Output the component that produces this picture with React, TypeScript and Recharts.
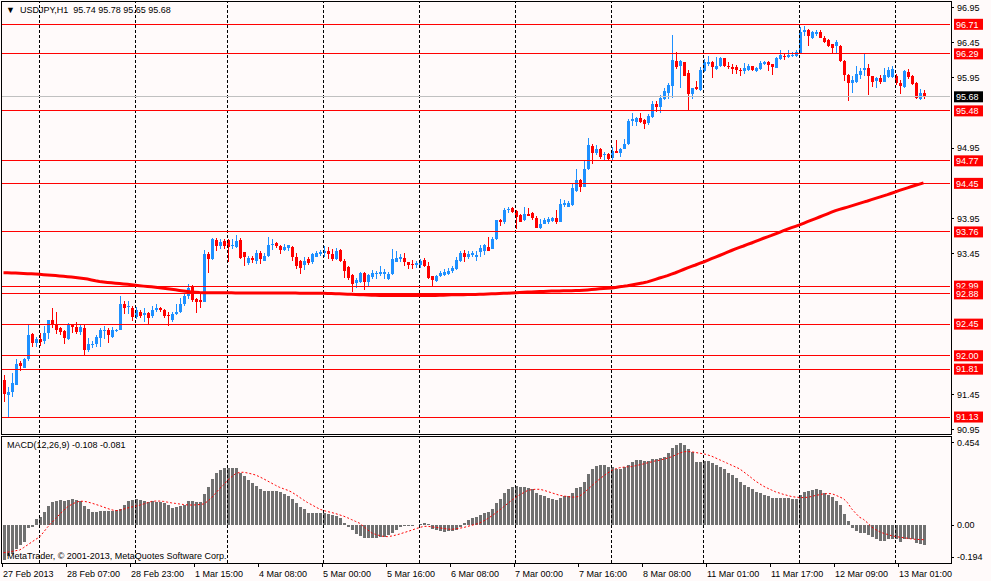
import React from 'react';
import { ComposedChart, Bar, Line, XAxis, YAxis, ReferenceLine } from 'recharts';

// ---------- price data (USDJPY H1, bar 0 = 27 Feb 2013 15:00) ----------
const opens = [
  91.655, 91.45, 91.48, 91.59, 91.895, 91.83, 91.95, 92.306, 92.18, 92.235,
  92.21, 92.325, 92.504, 92.447, 92.39, 92.357, 92.235, 92.433, 92.41, 92.34,
  92.4, 92.08, 92.156, 92.17, 92.25, 92.357, 92.36, 92.26, 92.36, 92.363,
  92.74, 92.7, 92.684, 92.55, 92.627, 92.58, 92.608, 92.56, 92.646, 92.674,
  92.646, 92.58, 92.504, 92.589, 92.627, 92.731, 92.854, 92.976, 92.807, 92.788,
  92.769, 93.448, 93.373, 93.647, 93.553, 93.628, 93.647, 93.553, 93.543, 93.647,
  93.477, 93.316, 93.392, 93.345, 93.467, 93.354, 93.42, 93.571, 93.6, 93.562,
  93.505, 93.533, 93.552, 93.41, 93.345, 93.297, 93.373, 93.326, 93.41, 93.448,
  93.467, 93.496, 93.44, 93.373, 93.505, 93.354, 93.26, 93.146, 93.033, 93.052,
  93.175, 93.052, 93.118, 93.165, 93.156, 93.165, 93.09, 93.156, 93.335, 93.382,
  93.392, 93.335, 93.307, 93.297, 93.297, 93.363, 93.279, 93.137, 93.061, 93.128,
  93.146, 93.156, 93.203, 93.231, 93.354, 93.458, 93.41, 93.43, 93.41, 93.475,
  93.484, 93.55, 93.522, 93.654, 93.925, 93.895, 94.07, 94.093, 94.055, 93.999,
  93.923, 94.018, 94.027, 93.961, 93.81, 93.876, 93.895, 93.914, 93.961, 93.905,
  94.14, 94.121, 94.14, 94.348, 94.499, 94.405, 94.65, 94.981, 94.877, 94.934,
  94.849, 94.868, 94.811, 94.915, 94.887, 94.943, 95.009, 95.33, 95.321, 95.378,
  95.35, 95.302, 95.387, 95.576, 95.529, 95.642, 95.736, 95.84, 96.19, 96.114,
  96.171, 96.02, 95.717, 95.821, 95.774, 96.048, 96.143, 96.18, 96.077, 96.114,
  96.228, 96.124, 96.105, 96.105, 96.067, 96.048, 96.067, 96.114, 96.048, 96.077,
  96.152, 96.18, 96.143, 96.096, 96.218, 96.265, 96.246, 96.256, 96.266, 96.303,
  96.606, 96.624, 96.52, 96.577, 96.605, 96.52, 96.483, 96.426, 96.398, 96.407,
  96.19, 95.992, 95.878, 95.897, 95.992, 96.058, 96.086, 95.973, 95.907, 95.944,
  95.897, 95.963, 95.963, 95.973, 95.878, 95.822, 96.029, 95.982, 95.878, 95.652,
  95.74,
];
const highs = [
  91.73, 91.55, 91.76, 91.95, 91.93, 91.975, 92.457, 92.33, 92.26, 92.33,
  92.43, 92.51, 92.674, 92.617, 92.41, 92.37, 92.46, 92.457, 92.485, 92.457,
  92.45, 92.25, 92.21, 92.297, 92.4, 92.42, 92.39, 92.41, 92.38, 92.854,
  92.78, 92.78, 92.71, 92.693, 92.646, 92.684, 92.627, 92.712, 92.74, 92.7,
  92.665, 92.627, 92.627, 92.731, 92.816, 92.896, 93.024, 93.005, 92.82, 92.89,
  93.51, 93.477, 93.675, 93.675, 93.656, 93.656, 93.656, 93.656, 93.722, 93.675,
  93.48, 93.42, 93.42, 93.505, 93.496, 93.467, 93.694, 93.656, 93.618, 93.58,
  93.59, 93.58, 93.562, 93.467, 93.363, 93.41, 93.41, 93.458, 93.486, 93.505,
  93.562, 93.543, 93.515, 93.533, 93.515, 93.373, 93.278, 93.156, 93.109, 93.184,
  93.184, 93.156, 93.222, 93.203, 93.278, 93.232, 93.184, 93.524, 93.486, 93.448,
  93.458, 93.335, 93.363, 93.345, 93.382, 93.392, 93.335, 93.137, 93.146, 93.203,
  93.24, 93.25, 93.278, 93.41, 93.496, 93.505, 93.486, 93.496, 93.484, 93.578,
  93.588, 93.692, 93.682, 93.93, 93.94, 94.093, 94.12, 94.12, 94.074, 94.008,
  94.12, 94.102, 94.046, 93.98, 93.942, 93.952, 93.97, 93.97, 94.074, 94.225,
  94.216, 94.197, 94.452, 94.66, 94.518, 94.783, 95.094, 95.009, 95.0, 94.952,
  94.896, 94.887, 94.971, 95.066, 94.952, 95.075, 95.359, 95.444, 95.387, 95.444,
  95.359, 95.434, 95.614, 95.623, 95.699, 95.803, 95.869, 96.558, 96.312, 96.209,
  96.18, 96.067, 95.812, 95.906, 96.105, 96.218, 96.265, 96.19, 96.246, 96.246,
  96.237, 96.171, 96.143, 96.133, 96.095, 96.162, 96.152, 96.124, 96.105, 96.19,
  96.19, 96.19, 96.152, 96.246, 96.35, 96.303, 96.35, 96.313, 96.35, 96.672,
  96.69, 96.643, 96.615, 96.624, 96.634, 96.539, 96.502, 96.435, 96.483, 96.417,
  96.209, 96.01, 95.973, 96.124, 96.095, 96.284, 96.143, 95.982, 95.963, 95.992,
  96.086, 96.105, 96.114, 96.01, 95.916, 96.058, 96.077, 95.992, 95.897, 95.784,
  95.78,
];
const lows = [
  91.35, 91.125, 91.42, 91.59, 91.79, 91.82, 91.93, 92.127, 92.13, 92.14,
  92.17, 92.235, 92.4, 92.306, 92.3, 92.165, 92.226, 92.325, 92.306, 92.29,
  92.008, 92.05, 92.117, 92.126, 92.126, 92.235, 92.183, 92.25, 92.34, 92.36,
  92.59, 92.59, 92.49, 92.523, 92.542, 92.485, 92.457, 92.542, 92.617, 92.617,
  92.542, 92.424, 92.485, 92.58, 92.608, 92.703, 92.807, 92.769, 92.608, 92.684,
  92.76, 93.18, 93.364, 93.486, 93.524, 93.524, 93.335, 93.524, 93.533, 93.382,
  93.274, 93.297, 93.316, 93.307, 93.307, 93.345, 93.41, 93.505, 93.533, 93.448,
  93.486, 93.496, 93.345, 93.24, 93.156, 93.222, 93.297, 93.307, 93.401, 93.42,
  93.41, 93.373, 93.354, 93.363, 93.335, 93.109, 93.08, 92.9, 92.967, 93.033,
  92.939, 92.995, 93.09, 93.09, 93.128, 93.09, 93.07, 93.146, 93.326, 93.335,
  93.278, 93.231, 93.231, 93.25, 93.25, 93.26, 93.09, 92.995, 93.052, 93.118,
  93.128, 93.146, 93.175, 93.212, 93.335, 93.326, 93.373, 93.41, 93.342, 93.399,
  93.437, 93.49, 93.512, 93.64, 93.838, 93.876, 94.027, 94.027, 93.801, 93.9,
  93.914, 93.98, 93.933, 93.81, 93.8, 93.867, 93.876, 93.905, 93.876, 93.9,
  94.112, 94.112, 94.131, 94.33, 94.33, 94.395, 94.64, 94.726, 94.858, 94.792,
  94.783, 94.783, 94.764, 94.877, 94.83, 94.934, 95.0, 95.264, 95.264, 95.302,
  95.227, 95.274, 95.378, 95.463, 95.444, 95.632, 95.651, 95.661, 96.076, 95.812,
  95.972, 95.472, 95.651, 95.774, 95.765, 96.038, 96.114, 95.944, 96.058, 96.105,
  96.105, 96.077, 96.01, 96.001, 95.982, 96.01, 96.048, 96.048, 96.029, 96.067,
  96.133, 96.048, 95.992, 96.086, 96.199, 96.199, 96.237, 96.246, 96.246, 96.294,
  96.539, 96.407, 96.502, 96.549, 96.511, 96.445, 96.388, 96.303, 96.294, 96.18,
  95.907, 95.623, 95.737, 95.878, 95.935, 95.973, 95.708, 95.822, 95.803, 95.859,
  95.888, 95.944, 95.944, 95.841, 95.718, 95.803, 95.935, 95.841, 95.642, 95.633,
  95.65,
];
const closes = [
  91.456, 91.49, 91.607, 91.89, 91.853, 91.95, 92.292, 92.183, 92.235, 92.202,
  92.325, 92.504, 92.447, 92.362, 92.34, 92.25, 92.433, 92.41, 92.344, 92.41,
  92.08, 92.164, 92.17, 92.26, 92.363, 92.365, 92.29, 92.37, 92.37, 92.731,
  92.674, 92.71, 92.55, 92.646, 92.56, 92.608, 92.542, 92.646, 92.674, 92.646,
  92.56, 92.56, 92.589, 92.627, 92.74, 92.854, 92.957, 92.788, 92.769, 92.769,
  93.448, 93.373, 93.665, 93.553, 93.61, 93.553, 93.543, 93.572, 93.628, 93.392,
  93.41, 93.392, 93.363, 93.467, 93.373, 93.42, 93.571, 93.59, 93.553, 93.505,
  93.543, 93.571, 93.41, 93.269, 93.25, 93.354, 93.316, 93.448, 93.458, 93.477,
  93.496, 93.448, 93.382, 93.486, 93.345, 93.203, 93.109, 93.024, 93.07, 93.175,
  93.052, 93.146, 93.175, 93.175, 93.184, 93.194, 93.156, 93.373, 93.392, 93.41,
  93.326, 93.297, 93.288, 93.316, 93.345, 93.279, 93.109, 93.07, 93.137, 93.175,
  93.184, 93.203, 93.241, 93.363, 93.458, 93.41, 93.448, 93.458, 93.437, 93.531,
  93.569, 93.493, 93.654, 93.923, 93.895, 94.065, 94.09, 94.046, 93.97, 93.905,
  94.018, 93.99, 93.961, 93.82, 93.876, 93.923, 93.942, 93.961, 93.905, 94.159,
  94.178, 94.178, 94.386, 94.499, 94.395, 94.66, 94.99, 94.886, 94.943, 94.82,
  94.868, 94.802, 94.905, 94.887, 94.943, 95.009, 95.34, 95.359, 95.378, 95.321,
  95.293, 95.406, 95.576, 95.538, 95.661, 95.765, 95.85, 96.199, 96.105, 96.19,
  95.982, 95.717, 95.802, 95.784, 96.057, 96.171, 96.171, 96.105, 96.114, 96.228,
  96.114, 96.105, 96.077, 96.058, 96.048, 96.086, 96.114, 96.058, 96.086, 96.162,
  96.171, 96.133, 96.105, 96.228, 96.275, 96.246, 96.275, 96.275, 96.322, 96.606,
  96.624, 96.539, 96.596, 96.605, 96.52, 96.464, 96.407, 96.379, 96.464, 96.19,
  95.992, 95.878, 95.916, 96.001, 96.048, 96.095, 95.973, 95.897, 95.944, 95.897,
  95.992, 96.067, 96.077, 95.878, 95.831, 96.048, 95.963, 95.86, 95.67, 95.736,
  95.68,
];
// moving average (red thick line)
const movingAvg = [
  93.18, 93.18, 93.178, 93.175, 93.172, 93.17, 93.167, 93.165, 93.162, 93.158,
  93.153, 93.148, 93.144, 93.14, 93.135, 93.13, 93.124, 93.118, 93.112, 93.105,
  93.098, 93.09, 93.078, 93.066, 93.056, 93.049, 93.043, 93.037, 93.031, 93.026,
  93.021, 93.016, 93.011, 93.003, 92.996, 92.99, 92.985, 92.98, 92.974, 92.967,
  92.96, 92.953, 92.946, 92.937, 92.929, 92.921, 92.914, 92.908, 92.903, 92.899,
  92.897, 92.896, 92.896, 92.896, 92.895, 92.895, 92.895, 92.895, 92.894, 92.894,
  92.894, 92.894, 92.893, 92.893, 92.893, 92.893, 92.892, 92.892, 92.892, 92.892,
  92.891, 92.891, 92.891, 92.891, 92.89, 92.89, 92.89, 92.89, 92.889, 92.889,
  92.888, 92.886, 92.884, 92.882, 92.88, 92.878, 92.876, 92.874, 92.871, 92.868,
  92.866, 92.864, 92.862, 92.86, 92.858, 92.857, 92.856, 92.856, 92.855, 92.855,
  92.855, 92.855, 92.855, 92.855, 92.855, 92.855, 92.856, 92.857, 92.858, 92.86,
  92.862, 92.864, 92.866, 92.867, 92.868, 92.869, 92.87, 92.871, 92.872, 92.874,
  92.876, 92.878, 92.88, 92.882, 92.884, 92.887, 92.89, 92.893, 92.896, 92.899,
  92.902, 92.905, 92.908, 92.91, 92.912, 92.915, 92.917, 92.919, 92.921, 92.922,
  92.923, 92.924, 92.925, 92.927, 92.929, 92.932, 92.936, 92.941, 92.946, 92.951,
  92.955, 92.959, 92.964, 92.97, 92.982, 92.988, 92.996, 93.006, 93.016, 93.026,
  93.037, 93.05, 93.068, 93.086, 93.105, 93.122, 93.14, 93.16, 93.18, 93.203,
  93.226, 93.248, 93.27, 93.29, 93.312, 93.333, 93.356, 93.38, 93.403, 93.425,
  93.448, 93.472, 93.496, 93.518, 93.54, 93.56, 93.582, 93.603, 93.625, 93.648,
  93.67, 93.69, 93.71, 93.733, 93.755, 93.778, 93.8, 93.82, 93.84, 93.86,
  93.883, 93.906, 93.928, 93.95, 93.972, 93.995, 94.018, 94.04, 94.062, 94.08,
  94.097, 94.113, 94.13, 94.148, 94.166, 94.184, 94.2, 94.218, 94.236, 94.254,
  94.272, 94.29, 94.31, 94.33, 94.35, 94.368, 94.386, 94.405, 94.423, 94.44,
  94.457,
];
// MACD(12,26,9) histogram and signal
const macdMain = [
  -0.194, -0.172, -0.158, -0.135, -0.11, -0.092, -0.015, -0.009, 0.031, 0.046,
  0.074, 0.105, 0.129, 0.134, 0.138, 0.134, 0.138, 0.143, 0.138, 0.134,
  0.105, 0.086, 0.074, 0.074, 0.077, 0.077, 0.077, 0.077, 0.083, 0.088,
  0.11, 0.134, 0.138, 0.143, 0.138, 0.132, 0.129, 0.132, 0.129, 0.129,
  0.12, 0.11, 0.096, 0.101, 0.105, 0.11, 0.132, 0.132, 0.129, 0.129,
  0.171, 0.211, 0.252, 0.285, 0.303, 0.313, 0.313, 0.313, 0.313, 0.289,
  0.272, 0.248, 0.23, 0.215, 0.199, 0.188, 0.188, 0.188, 0.188, 0.18,
  0.171, 0.16, 0.142, 0.12, 0.101, 0.086, 0.068, 0.068, 0.068, 0.068,
  0.068, 0.061, 0.055, 0.05, 0.037, 0.013, -0.009, -0.028, -0.051, -0.061,
  -0.07, -0.07, -0.07, -0.07, -0.068, -0.064, -0.055, -0.046, -0.028, -0.013,
  -0.007, -0.006, -0.004, -0.002, 0.004, 0.009, 0.004, -0.022, -0.028, -0.031,
  -0.037, -0.031, -0.031, -0.028, -0.009, 0.013, 0.028, 0.037, 0.042, 0.057,
  0.068, 0.072, 0.09, 0.123, 0.145, 0.178, 0.2, 0.211, 0.215, 0.21,
  0.21, 0.206, 0.197, 0.178, 0.164, 0.16, 0.149, 0.145, 0.14, 0.149,
  0.16, 0.16, 0.178, 0.206, 0.211, 0.237, 0.281, 0.307, 0.325, 0.331,
  0.331, 0.322, 0.32, 0.311, 0.311, 0.318, 0.333, 0.349, 0.359, 0.359,
  0.353, 0.353, 0.364, 0.364, 0.368, 0.377, 0.395, 0.425, 0.443, 0.454,
  0.443, 0.421, 0.403, 0.347, 0.347, 0.351, 0.351, 0.34, 0.329, 0.322,
  0.307, 0.289, 0.274, 0.261, 0.237, 0.219, 0.211, 0.2, 0.182, 0.178,
  0.167, 0.16, 0.149, 0.149, 0.149, 0.149, 0.149, 0.145, 0.145, 0.164,
  0.182, 0.188, 0.193, 0.197, 0.191, 0.178, 0.164, 0.154, 0.131, 0.108,
  0.061, 0.022, -0.015, -0.031, -0.042, -0.042, -0.053, -0.066, -0.075, -0.088,
  -0.088, -0.075, -0.075, -0.075, -0.094, -0.079, -0.075, -0.075, -0.097, -0.104,
  -0.108,
];
const macdSignal = [
  -0.153, -0.15, -0.146, -0.142, -0.138, -0.125, -0.11, -0.095, -0.08, -0.066,
  -0.04, -0.012, 0.012, 0.035, 0.058, 0.08, 0.1, 0.113, 0.124, 0.131,
  0.131, 0.127, 0.121, 0.114, 0.107, 0.099, 0.091, 0.084, 0.079, 0.081,
  0.088, 0.094, 0.099, 0.104, 0.109, 0.116, 0.123, 0.13, 0.132, 0.132,
  0.13, 0.126, 0.122, 0.119, 0.116, 0.113, 0.111, 0.11, 0.111, 0.113,
  0.116, 0.13, 0.15, 0.175, 0.2, 0.222, 0.245, 0.265, 0.283, 0.29,
  0.291, 0.287, 0.282, 0.276, 0.266, 0.255, 0.243, 0.231, 0.219, 0.208,
  0.2, 0.192, 0.182, 0.168, 0.153, 0.138, 0.124, 0.112, 0.1, 0.088,
  0.08, 0.074, 0.069, 0.063, 0.056, 0.049, 0.04, 0.03, 0.02, 0.01,
  -0.008, -0.026, -0.043, -0.052, -0.058, -0.063, -0.064, -0.061, -0.056, -0.05,
  -0.043, -0.036, -0.029, -0.021, -0.014, -0.008, -0.007, -0.01, -0.013, -0.016,
  -0.019, -0.022, -0.024, -0.021, -0.018, -0.014, -0.008, -0.002, 0.004, 0.01,
  0.022, 0.035, 0.049, 0.065, 0.082, 0.1, 0.118, 0.135, 0.152, 0.166,
  0.178, 0.19, 0.195, 0.197, 0.197, 0.192, 0.185, 0.178, 0.171, 0.164,
  0.16, 0.157, 0.154, 0.154, 0.159, 0.175, 0.195, 0.215, 0.235, 0.253,
  0.27, 0.286, 0.3, 0.31, 0.316, 0.319, 0.321, 0.322, 0.327, 0.332,
  0.337, 0.343, 0.348, 0.354, 0.357, 0.363, 0.369, 0.376, 0.386, 0.396,
  0.404, 0.405, 0.404, 0.4, 0.396, 0.393, 0.387, 0.38, 0.37, 0.36,
  0.35, 0.34, 0.33, 0.32, 0.31, 0.294, 0.277, 0.26, 0.242, 0.228,
  0.214, 0.203, 0.193, 0.183, 0.176, 0.169, 0.163, 0.157, 0.154, 0.152,
  0.151, 0.153, 0.157, 0.163, 0.167, 0.172, 0.173, 0.173, 0.165, 0.155,
  0.145, 0.123, 0.09, 0.066, 0.043, 0.031, 0.012, -0.01, -0.025, -0.037,
  -0.046, -0.052, -0.059, -0.063, -0.067, -0.07, -0.073, -0.077, -0.079, -0.08,
  -0.081,
];

// horizontal levels drawn on the chart
const levels = [96.71, 96.29, 95.48, 94.77, 94.45, 93.76, 92.99, 92.88, 92.45, 92.0, 91.81, 91.13];
const bidPrice = 95.68;
// price axis ticks that are visible
const priceTicks = [96.95, 96.45, 95.95, 94.95, 93.95, 93.45, 91.45, 90.95];
const macdTicks = [0.454, 0, -0.194];
const macdTickLabels = ['0.454', '0.00', '-0.194'];
// time axis
const timeTickIndex = [0, 16, 32, 48, 64, 80, 96, 112, 128, 144, 160, 176, 192, 208, 224];
const timeTickLabels = [
  '27 Feb 2013', '28 Feb 07:00', '28 Feb 23:00', '1 Mar 15:00', '4 Mar 08:00',
  '5 Mar 00:00', '5 Mar 16:00', '6 Mar 08:00', '7 Mar 00:00', '7 Mar 16:00',
  '8 Mar 08:00', '11 Mar 01:00', '11 Mar 17:00', '12 Mar 09:00', '13 Mar 01:00',
];
// day separators (bar index of 00:00)
const dayStarts = [9, 33, 56, 80, 104, 128, 152, 175, 199, 223];

const SLOTS = 237; // bars + empty right shift
const rows = Array.from({ length: SLOTS }, (_, i) =>
  i < opens.length
    ? { i, o: opens[i], h: highs[i], l: lows[i], c: closes[i], ma: movingAvg[i], macd: macdMain[i], sig: macdSignal[i] }
    : { i, o: null, h: null, l: null, c: null, ma: null, macd: null, sig: null }
);

const FONT = "'Liberation Sans', Arial, sans-serif";
const BG = '#FFFAFA';
const BULL = '#1E90FF';
const BEAR = '#FF0000';
const MACD_TOP = 435; // page y of the MACD svg

const Candle = (props: any) => {
  const { x, y, width, height, payload } = props;
  if (!payload || payload.o == null) return null;
  const { o, h, l, c } = payload;
  const top = Math.min(y, y + height);
  const bot = Math.max(y, y + height);
  const span = h - l;
  const py = (p: number) => (span === 0 ? top : top + ((h - p) / span) * (bot - top));
  const cx = x + width / 2;
  const color = c >= o ? BULL : BEAR;
  const yo = py(o);
  const yc = py(c);
  const bt = Math.min(yo, yc);
  const bh = Math.max(1, Math.abs(yo - yc));
  return (
    <g>
      <line x1={cx} x2={cx} y1={top} y2={bot} stroke={color} strokeWidth={1} shapeRendering="crispEdges" />
      <rect x={x} y={bt} width={width} height={bh} fill={color} shapeRendering="crispEdges" />
    </g>
  );
};

const PriceTick = (props: any) => {
  const { y, payload } = props;
  return (
    <g>
      <line x1={951} x2={954} y1={y} y2={y} stroke="#000" shapeRendering="crispEdges" />
      <text x={957} y={y + 3.3} fontSize={9} fontFamily={FONT} fill="#000">
        {Number(payload.value).toFixed(2)}
      </text>
    </g>
  );
};

const MacdTick = (props: any) => {
  const { y, payload, index } = props;
  const ty = Math.min(y, 557 - MACD_TOP);
  const k = macdTicks.indexOf(Number(payload.value));
  return (
    <g>
      <line x1={951} x2={954} y1={ty} y2={ty} stroke="#000" shapeRendering="crispEdges" />
      <text x={957} y={ty + 3.3} fontSize={9} fontFamily={FONT} fill="#000">
        {k >= 0 ? macdTickLabels[k] : macdTickLabels[index]}
      </text>
    </g>
  );
};

const TimeTick = (props: any) => {
  const { x, payload } = props;
  const k = timeTickIndex.indexOf(Number(payload.value));
  return (
    <g>
      <line x1={x - 1} x2={x - 1} y1={563 - MACD_TOP} y2={567 - MACD_TOP} stroke="#000" shapeRendering="crispEdges" />
      <text x={x - 0.5} y={576.5 - MACD_TOP} fontSize={9} fontFamily={FONT} fill="#000">
        {k >= 0 ? timeTickLabels[k] : ''}
      </text>
    </g>
  );
};

const LevelLabel = (props: any) => {
  const { viewBox, text, bg } = props;
  if (!viewBox) return null;
  const y = viewBox.y;
  return (
    <g>
      <rect x={954} y={y - 5.5} width={29} height={11} fill={bg} />
      <text x={956} y={y + 3.3} fontSize={9} fontFamily={FONT} fill="#fff">
        {text}
      </text>
    </g>
  );
};

export default function App() {
  return (
    <div style={{ position: 'absolute', left: 0, top: 0, width: 991, height: 581, background: BG, overflow: 'hidden' }}>
      {/* main price panel */}
      <div style={{ position: 'absolute', left: 0, top: 0 }}>
        <ComposedChart width={991} height={436} data={rows} margin={{ top: 2, right: 0, bottom: 3, left: 1.5 }}>
          <XAxis dataKey="i" type="category" hide />
          <YAxis
            orientation="right"
            type="number"
            width={41.5}
            domain={[90.903, 97.027]}
            allowDataOverflow
            ticks={priceTicks}
            interval={0}
            tick={<PriceTick />}
            axisLine={false}
            tickLine={false}
          />
          {dayStarts.map((d) => (
            <ReferenceLine key={'g' + d} x={d} stroke="#000" strokeDasharray="3 2" shapeRendering="crispEdges" />
          ))}
          <Bar dataKey={(d: any) => (d.o == null ? null : [d.l, d.h])} barSize={3} shape={<Candle />} isAnimationActive={false} />
          <Line dataKey="ma" stroke="#FF0000" strokeWidth={3} dot={false} isAnimationActive={false} connectNulls={false} />
          <ReferenceLine
            y={bidPrice}
            stroke="#C0C0C0"
            shapeRendering="crispEdges"
            label={(p: any) => <LevelLabel viewBox={p.viewBox} text={bidPrice.toFixed(2)} bg="#000" />}
          />
          {levels.map((lv) => (
            <ReferenceLine
              key={'l' + lv}
              y={lv}
              stroke="#FF0000"
              shapeRendering="crispEdges"
              label={(p: any) => <LevelLabel viewBox={p.viewBox} text={lv.toFixed(2)} bg="#FF0000" />}
            />
          ))}
        </ComposedChart>
      </div>
      {/* MACD panel */}
      <div style={{ position: 'absolute', left: 0, top: MACD_TOP }}>
        <ComposedChart width={991} height={146} data={rows} margin={{ top: 2, right: 0, bottom: 0, left: 1.5 }}>
          <XAxis
            dataKey="i"
            type="category"
            height={18}
            ticks={timeTickIndex}
            interval={0}
            tick={<TimeTick />}
            axisLine={false}
            tickLine={false}
          />
          <YAxis
            orientation="right"
            type="number"
            width={41.5}
            domain={[-0.2096, 0.4854]}
            allowDataOverflow
            ticks={macdTicks}
            interval={0}
            tick={<MacdTick />}
            axisLine={false}
            tickLine={false}
          />
          {dayStarts.map((d) => (
            <ReferenceLine key={'mg' + d} x={d} stroke="#000" strokeDasharray="3 2" shapeRendering="crispEdges" />
          ))}
          <Bar dataKey="macd" barSize={3} fill="#707070" isAnimationActive={false} shapeRendering="crispEdges" />
          <Line dataKey="sig" stroke="#FF0000" strokeWidth={1} strokeDasharray="2 2" dot={false} isAnimationActive={false} />
        </ComposedChart>
      </div>
      {/* panel frames */}
      <div style={{ position: 'absolute', left: 1, top: 1, width: 951, height: 434, boxSizing: 'border-box', border: '1px solid #000', pointerEvents: 'none' }} />
      <div style={{ position: 'absolute', left: 1, top: 436, width: 951, height: 128, boxSizing: 'border-box', border: '1px solid #000', pointerEvents: 'none' }} />
      {/* texts */}
      <div style={{ position: 'absolute', left: 6, top: 5, fontFamily: FONT, fontSize: 9, lineHeight: '11px', whiteSpace: 'pre', color: '#000' }}>
        {'▼  USDJPY,H1  95.74 95.78 95.65 95.68'}
      </div>
      <div style={{ position: 'absolute', left: 7, top: 440, fontFamily: FONT, fontSize: 9, lineHeight: '11px', whiteSpace: 'pre', color: '#000' }}>
        {'MACD(12,26,9) -0.108 -0.081'}
      </div>
      <div style={{ position: 'absolute', left: 7, top: 551, fontFamily: FONT, fontSize: 9, lineHeight: '11px', whiteSpace: 'pre', color: '#000' }}>
        {'MetaTrader, © 2001-2013, MetaQuotes Software Corp.'}
      </div>
    </div>
  );
}
